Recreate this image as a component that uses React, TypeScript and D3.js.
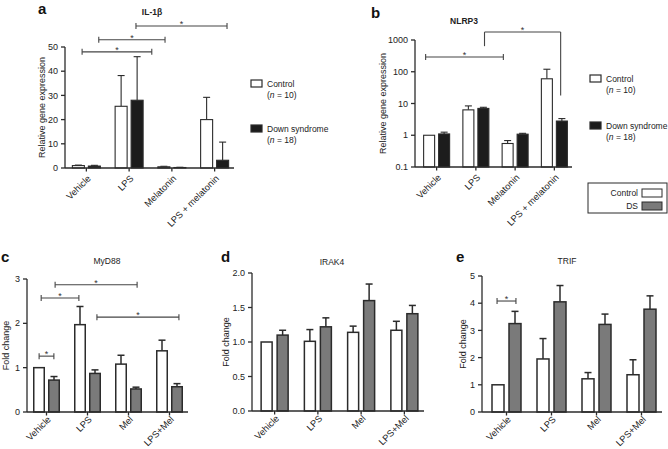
import React from 'react';
import * as d3 from 'd3';

// ---------- data ----------
const groupsAB = ['Vehicle', 'LPS', 'Melatonin', 'LPS + melatonin'];
const groupsCDE = ['Vehicle', 'LPS', 'Mel', 'LPS+Mel'];
const seriesNames = ['Control', 'DS'];

// a: IL-1β
const il1bControl = [1.0, 25.5, 0.5, 20.0];
const il1bControlErrTop = [1.2, 38.2, 0.7, 29.2];
const il1bDS = [0.8, 28.0, 0.2, 3.2];
const il1bDSErrTop = [1.1, 46.0, 0.3, 10.7];
const il1bTicks = [0, 10, 20, 30, 40, 50];

// b: NLRP3 (log)
const nlrp3Control = [1.0, 6.3, 0.55, 60];
const nlrp3ControlErrTop = [1.0, 8.4, 0.68, 120];
const nlrp3DS = [1.1, 7.0, 1.08, 2.8];
const nlrp3DSErrTop = [1.25, 7.6, 1.15, 3.35];
const nlrp3Ticks = [0.1, 1, 10, 100, 1000];

// c: MyD88
const myd88Control = [1.0, 1.97, 1.08, 1.38];
const myd88ControlErrTop = [1.0, 2.38, 1.28, 1.62];
const myd88DS = [0.72, 0.87, 0.52, 0.57];
const myd88DSErrTop = [0.8, 0.95, 0.56, 0.64];
const myd88Ticks = [0, 1, 2, 3];

// d: IRAK4
const irak4Control = [1.0, 1.01, 1.14, 1.17];
const irak4ControlErrTop = [1.0, 1.18, 1.23, 1.3];
const irak4DS = [1.1, 1.22, 1.6, 1.41];
const irak4DSErrTop = [1.17, 1.35, 1.84, 1.53];
const irak4Ticks = [0, 0.5, 1.0, 1.5, 2.0];

// e: TRIF
const trifControl = [1.0, 1.95, 1.22, 1.37];
const trifControlErrTop = [1.0, 2.7, 1.45, 1.92];
const trifDS = [3.25, 4.05, 3.22, 3.78];
const trifDSErrTop = [3.7, 4.65, 3.6, 4.27];
const trifTicks = [0, 1, 2, 3, 4, 5];

// significance brackets: positions in group-index units, level in data units
type Bracket = { from: number; to: number; level: number; dropFrom?: number; dropTo?: number; caps?: boolean };
const il1bBrackets: Bracket[] = [
  { from: -0.1, to: 1.53, level: 48, caps: true },
  { from: 0.29, to: 1.84, level: 53, caps: true },
  { from: 1.16, to: 3.29, level: 58.7, caps: true },
];
const nlrp3Brackets: Bracket[] = [
  { from: -0.28, to: 1.7, level: 290, caps: true },
  { from: 1.22, to: 3.16, level: 1780, dropFrom: 640, dropTo: 18, caps: false },
];
const myd88Brackets: Bracket[] = [
  { from: -0.18, to: 0.18, level: 1.26, caps: true },
  { from: -0.13, to: 0.79, level: 2.57, caps: true },
  { from: 0.21, to: 2.21, level: 2.87, caps: true },
  { from: 1.23, to: 3.23, level: 2.14, caps: true },
];
const irak4Brackets: Bracket[] = [];
const trifBrackets: Bracket[] = [{ from: -0.21, to: 0.21, level: 4.08, caps: true }];

const FONT = "'Liberation Sans', Arial, Helvetica, sans-serif";
const INK = '#2b2b2b';

type PanelProps = {
  groups: string[];
  ctrl: number[];
  ctrlErr: number[];
  ds: number[];
  dsErr: number[];
  ticks: number[];
  tickFmt: (v: number) => string;
  log?: boolean;
  axisX: number;
  bandStart: number;
  bandEnd: number;
  yBase: number;
  yTop: number;
  barW: number;
  gap: number;
  dsFill: string;
  sw: number;
  title: string;
  titleX: number;
  titleY: number;
  titleBold: boolean;
  letter: string;
  letterX: number;
  letterY: number;
  ylabel: string;
  ylabelX: number;
  brackets: Bracket[];
  fs: number;
  xlDy: number;
};

function Panel(p: PanelProps) {
  const dom = [p.ticks[0], p.ticks[p.ticks.length - 1]];
  const y = p.log
    ? d3.scaleLog().domain(dom).range([p.yBase, p.yTop])
    : d3.scaleLinear().domain(dom).range([p.yBase, p.yTop]);
  const x = d3.scaleBand<string>().domain(p.groups).range([p.bandStart, p.bandEnd]).padding(0);
  const idx = d3.scaleLinear().domain([-0.5, p.groups.length - 0.5]).range([p.bandStart, p.bandEnd]);
  const bw = x.bandwidth();
  const step = p.barW + p.gap;
  const inner = d3
    .scaleBand<string>()
    .domain(seriesNames)
    .range([-(p.barW + p.gap / 2), p.barW + p.gap / 2])
    .paddingInner(p.gap / step)
    .paddingOuter(0);
  const base = y(dom[0]);
  const cap = 3.5;

  const bars: any[] = [];
  p.groups.forEach((g, i) => {
    const cx = (x(g) as number) + bw / 2;
    [
      { s: 'Control', v: p.ctrl[i], e: p.ctrlErr[i], fill: '#ffffff' },
      { s: 'DS', v: p.ds[i], e: p.dsErr[i], fill: p.dsFill },
    ].forEach((b) => {
      const bx = cx + (inner(b.s) as number);
      const by = y(b.v);
      const ey = y(b.e);
      const mx = bx + p.barW / 2;
      bars.push(
        <g key={g + b.s}>
          {b.e > b.v && (
            <g stroke={INK} strokeWidth={p.sw}>
              <line x1={mx} x2={mx} y1={by} y2={ey} />
              <line x1={mx - cap} x2={mx + cap} y1={ey} y2={ey} />
            </g>
          )}
          <rect x={bx} y={by} width={p.barW} height={Math.max(0, base - by)} fill={b.fill} stroke={INK} strokeWidth={p.sw} />
        </g>
      );
    });
  });

  return (
    <g fontFamily={FONT}>
      {/* letter */}
      <text x={p.letterX} y={p.letterY} fontSize={15} fontWeight="bold" fill="#111">
        {p.letter}
      </text>
      <text x={p.titleX} y={p.titleY} fontSize={8.5} fontWeight={p.titleBold ? 'bold' : 'normal'} textAnchor="middle" fill="#222">
        {p.title}
      </text>
      {/* y label */}
      <text
        transform={`translate(${p.ylabelX},${(p.yBase + p.yTop) / 2}) rotate(-90)`}
        textAnchor="middle"
        fontSize={p.fs}
        fill="#222"
      >
        {p.ylabel}
      </text>
      {bars}
      {/* axes */}
      <g stroke={INK} strokeWidth={1.3} fill="none">
        <line x1={p.axisX} x2={p.axisX} y1={base} y2={p.yTop} />
        <line x1={p.axisX} x2={p.bandEnd - 2} y1={base} y2={base} />
        {p.ticks.map((t) => (
          <line key={'yt' + t} x1={p.axisX - 4} x2={p.axisX} y1={y(t)} y2={y(t)} />
        ))}
        {p.groups.map((g) => (
          <line key={'xt' + g} x1={(x(g) as number) + bw / 2} x2={(x(g) as number) + bw / 2} y1={base} y2={base + 3.5} />
        ))}
      </g>
      {p.ticks.map((t) => (
        <text key={'yl' + t} x={p.axisX - 7} y={y(t)} dy="0.35em" textAnchor="end" fontSize={p.fs} fill="#222">
          {p.tickFmt(t)}
        </text>
      ))}
      {p.groups.map((g) => (
        <text
          key={'xl' + g}
          transform={`translate(${(x(g) as number) + bw / 2 + 5},${base + p.xlDy}) rotate(-45)`}
          textAnchor="end"
          fontSize={p.fs + 0.3}
          fill="#222"
        >
          {g}
        </text>
      ))}
      {/* brackets */}
      {p.brackets.map((b, i) => {
        const x1 = idx(b.from);
        const x2 = idx(b.to);
        const yy = y(b.level);
        return (
          <g key={'br' + i}>
            <g stroke="#444" strokeWidth={1.1} fill="none">
              <line x1={x1} x2={x2} y1={yy} y2={yy} />
              {b.caps && (
                <>
                  <line x1={x1} x2={x1} y1={yy - 3} y2={yy + 3} />
                  <line x1={x2} x2={x2} y1={yy - 3} y2={yy + 3} />
                </>
              )}
              {b.dropFrom !== undefined && <line x1={x1} x2={x1} y1={yy} y2={y(b.dropFrom)} />}
              {b.dropTo !== undefined && <line x1={x2} x2={x2} y1={yy} y2={y(b.dropTo)} />}
            </g>
            <text x={(x1 + x2) / 2} y={yy + 1} textAnchor="middle" fontSize={9} fill="#333">
              *
            </text>
          </g>
        );
      })}
    </g>
  );
}

function GroupLegend({ x, y1, y2 }: { x: number; y1: number; y2: number }) {
  return (
    <g fontFamily={FONT} fontSize={8.5} fill="#222">
      <rect x={x} y={y1 - 7} width={11} height={7} fill="#fff" stroke={INK} strokeWidth={1.2} />
      <text x={x + 16} y={y1}>Control</text>
      <text x={x + 16} y={y1 + 11}>
        (<tspan fontStyle="italic">n</tspan> = 10)
      </text>
      <rect x={x} y={y2 - 7} width={11} height={7} fill="#1c1c1c" stroke={INK} strokeWidth={1.2} />
      <text x={x + 16} y={y2}>Down syndrome</text>
      <text x={x + 16} y={y2 + 11}>
        (<tspan fontStyle="italic">n</tspan> = 18)
      </text>
    </g>
  );
}

export default function App() {
  const f0 = (v: number) => d3.format('d')(v);
  return (
    <svg
      width={668}
      height={449}
      viewBox="0 0 668 449"
      style={{ position: 'absolute', left: 0, top: 0, background: '#fff' }}
    >
      <rect width={668} height={449} fill="#fff" />
      <Panel
        groups={groupsAB}
        ctrl={il1bControl}
        ctrlErr={il1bControlErrTop}
        ds={il1bDS}
        dsErr={il1bDSErrTop}
        ticks={il1bTicks}
        tickFmt={f0}
        axisX={65}
        bandStart={65}
        bandEnd={236}
        yBase={168}
        yTop={47}
        barW={12}
        gap={4}
        dsFill="#1c1c1c"
        sw={1.1}
        title="IL-1β"
        titleX={152}
        titleY={15}
        titleBold={true}
        letter="a"
        letterX={38}
        letterY={14}
        ylabel="Relative gene expression"
        ylabelX={45}
        brackets={il1bBrackets}
        fs={9}
        xlDy={11}
      />
      <GroupLegend x={251} y1={87} y2={132} />
      <Panel
        groups={groupsAB}
        ctrl={nlrp3Control}
        ctrlErr={nlrp3ControlErrTop}
        ds={nlrp3DS}
        dsErr={nlrp3DSErrTop}
        ticks={nlrp3Ticks}
        tickFmt={(v) => (v < 1 ? '0.1' : String(v))}
        log={true}
        axisX={415}
        bandStart={417}
        bandEnd={574}
        yBase={167}
        yTop={40}
        barW={11}
        gap={4}
        dsFill="#1c1c1c"
        sw={1.1}
        title="NLRP3"
        titleX={464}
        titleY={24}
        titleBold={true}
        letter="b"
        letterX={371}
        letterY={18}
        ylabel="Relative gene expression"
        ylabelX={386}
        brackets={nlrp3Brackets}
        fs={9}
        xlDy={11}
      />
      <GroupLegend x={590} y1={82} y2={129} />
      {/* shared legend box */}
      <g fontFamily={FONT} fontSize={8.5} fill="#222">
        <rect x={588} y={183} width={79} height={30} fill="#fff" stroke={INK} strokeWidth={1} />
        <text x={638} y={196} textAnchor="end">Control</text>
        <rect x={642} y={189} width={20} height={8} fill="#fff" stroke={INK} strokeWidth={1} />
        <text x={638} y={209} textAnchor="end">DS</text>
        <rect x={642} y={202} width={20} height={8} fill="#7a7a7a" stroke={INK} strokeWidth={1} />
      </g>
      <Panel
        groups={groupsCDE}
        ctrl={myd88Control}
        ctrlErr={myd88ControlErrTop}
        ds={myd88DS}
        dsErr={myd88DSErrTop}
        ticks={myd88Ticks}
        tickFmt={f0}
        axisX={27}
        bandStart={26}
        bandEnd={190}
        yBase={412}
        yTop={279}
        barW={10.5}
        gap={4.5}
        dsFill="#7a7a7a"
        sw={1.5}
        title="MyD88"
        titleX={107}
        titleY={264}
        titleBold={false}
        letter="c"
        letterX={1}
        letterY={262}
        ylabel="Fold change"
        ylabelX={9}
        brackets={myd88Brackets}
        fs={9}
        xlDy={8}
      />
      <Panel
        groups={groupsCDE}
        ctrl={irak4Control}
        ctrlErr={irak4ControlErrTop}
        ds={irak4DS}
        dsErr={irak4DSErrTop}
        ticks={irak4Ticks}
        tickFmt={d3.format('.1f')}
        axisX={252}
        bandStart={253}
        bandEnd={426}
        yBase={411}
        yTop={273}
        barW={11}
        gap={5}
        dsFill="#7a7a7a"
        sw={1.5}
        title="IRAK4"
        titleX={332}
        titleY={265}
        titleBold={false}
        letter="d"
        letterX={221}
        letterY={262}
        ylabel="Fold change"
        ylabelX={229}
        brackets={irak4Brackets}
        fs={9}
        xlDy={8}
      />
      <Panel
        groups={groupsCDE}
        ctrl={trifControl}
        ctrlErr={trifControlErrTop}
        ds={trifDS}
        dsErr={trifDSErrTop}
        ticks={trifTicks}
        tickFmt={f0}
        axisX={482}
        bandStart={484}
        bandEnd={664}
        yBase={412}
        yTop={276}
        barW={12}
        gap={5}
        dsFill="#7a7a7a"
        sw={1.5}
        title="TRIF"
        titleX={567}
        titleY={264}
        titleBold={false}
        letter="e"
        letterX={456}
        letterY={262}
        ylabel="Fold change"
        ylabelX={466}
        brackets={trifBrackets}
        fs={9}
        xlDy={8}
      />
    </svg>
  );
}
